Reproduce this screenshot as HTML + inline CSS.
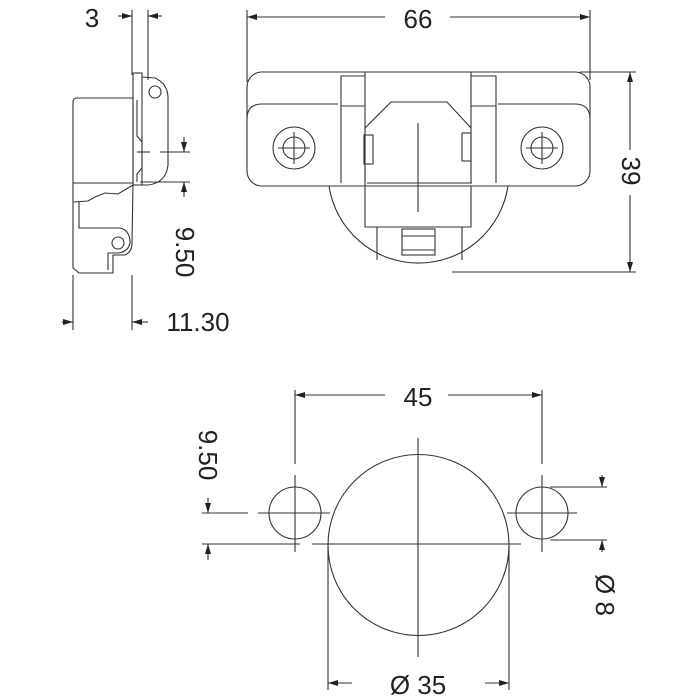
<!DOCTYPE html>
<html><head><style>
html,body{margin:0;padding:0;background:#fff;}
svg{display:block}
text{font-family:"Liberation Sans",sans-serif;fill:#222;}
</style></head><body>
<svg width="700" height="700" viewBox="0 0 700 700" xmlns="http://www.w3.org/2000/svg">
<defs>
<marker id="a" viewBox="0 0 10 6" refX="10" refY="3" markerWidth="10" markerHeight="6" orient="auto-start-reverse" markerUnits="userSpaceOnUse"><path d="M0,0 L10,3 L0,6 z" fill="#222"/></marker>
</defs>
<g fill="none" stroke="#333" stroke-width="1.1">
<!-- LEFT SIDE VIEW -->
<line x1="132" y1="10" x2="132" y2="75"/><line x1="148" y1="10" x2="148" y2="80"/>
<line x1="118" y1="16" x2="132" y2="16" marker-end="url(#a)"/>
<line x1="162" y1="16" x2="148" y2="16" marker-end="url(#a)"/>
<path d="M133,98 L77,98 Q73,98 73,102 L73,268 L79,273 L113,273 L113,255 L125,255 Q132,252 132,243 L133,183 Z"/>
<line x1="73" y1="183" x2="133" y2="183"/>
<path d="M73,202 L88,201 L95,197 L105,193 L118,194 L128,188 L133,185"/>
<path d="M79,202 L79,228 L120,228 Q130,230 130,243 Q128,252 118,253 L108,253 L108,270"/>
<circle cx="118" cy="243" r="6"/>
<rect x="133" y="73" width="9" height="112"/>
<path d="M142,77 L155,78 Q168,84 168,98 L168,165 Q166,183 148,185 L140,185"/>
<circle cx="155" cy="92" r="6"/>
<path d="M137,100 L137,136 L142,142 L142,168 L137,174 L137,182"/>
<line x1="137" y1="152" x2="150" y2="152"/>
<line x1="160" y1="152" x2="190" y2="152"/>
<line x1="140" y1="182" x2="190" y2="182"/>
<line x1="184" y1="137" x2="184" y2="152" marker-end="url(#a)"/>
<line x1="184" y1="197" x2="184" y2="182" marker-end="url(#a)"/>
<line x1="73" y1="275" x2="73" y2="330"/><line x1="132" y1="275" x2="132" y2="330"/>
<line x1="62" y1="322" x2="73" y2="322" marker-end="url(#a)"/>
<line x1="148" y1="322" x2="132" y2="322" marker-end="url(#a)"/>

<!-- TOP RIGHT VIEW -->
<line x1="247" y1="10" x2="247" y2="82"/><line x1="590" y1="10" x2="590" y2="80"/>
<line x1="247" y1="17" x2="385" y2="17" marker-start="url(#a)"/>
<line x1="450" y1="17" x2="590" y2="17" marker-end="url(#a)"/>
<path d="M329,186 A90.5,90.5 0 0 0 508,186"/>
<rect x="247" y="72" width="343" height="114" rx="15" fill="#fff"/>
<path d="M338,104 L262,104 Q247,104 247,119"/>
<path d="M498,104 L575,104 Q590,104 590,119"/>
<circle cx="294" cy="148" r="21"/><circle cx="294" cy="148" r="11"/>
<line x1="278" y1="148" x2="310" y2="148"/><line x1="294" y1="132" x2="294" y2="164"/>
<circle cx="542" cy="148" r="21"/><circle cx="542" cy="148" r="11"/>
<line x1="526" y1="148" x2="558" y2="148"/><line x1="542" y1="132" x2="542" y2="164"/>
<path d="M341,183 L341,76 L365,76 M365,72 L365,183 M471,72 L471,183 M471,76 L496,76 L496,183" />
<path d="M341,106 L365,106 M471,106 L496,106"/>
<path d="M365,186 L365,128 L391,102 L447,102 L471,128"/>
<line x1="367" y1="183" x2="472" y2="183"/>
<rect x="364" y="135" width="9" height="29"/><rect x="462" y="133" width="9" height="28"/>
<line x1="418" y1="123" x2="418" y2="212"/>
<path d="M365,186 L365,227 L377,227 L377,260 M471,186 L471,227 L462,227 L462,260"/>
<path d="M377,230 L377,227 L462,227"/>
<rect x="402" y="229" width="33" height="26"/>
<line x1="402" y1="236" x2="435" y2="236"/><line x1="402" y1="250" x2="435" y2="250"/>
<line x1="580" y1="72" x2="636" y2="72"/><line x1="452" y1="272" x2="636" y2="272"/>
<line x1="630" y1="150" x2="630" y2="72" marker-end="url(#a)"/>
<line x1="630" y1="195" x2="630" y2="272" marker-end="url(#a)"/>

<!-- BOTTOM VIEW -->
<circle cx="418.5" cy="545" r="90.5"/>
<circle cx="295" cy="513" r="26"/><circle cx="542" cy="513" r="26"/>
<line x1="295" y1="390" x2="295" y2="464"/><line x1="542" y1="390" x2="542" y2="464"/>
<line x1="295" y1="395" x2="385" y2="395" marker-start="url(#a)"/>
<line x1="448" y1="395" x2="542" y2="395" marker-end="url(#a)"/>
<line x1="295" y1="475" x2="295" y2="552"/><line x1="542" y1="475" x2="542" y2="552"/>
<line x1="202" y1="513" x2="248" y2="513"/><line x1="258" y1="513" x2="330" y2="513"/>
<line x1="507" y1="513" x2="577" y2="513"/>
<line x1="202" y1="544" x2="300" y2="544"/><line x1="312" y1="544" x2="521" y2="544"/>
<line x1="418" y1="438" x2="418" y2="657"/>
<line x1="208" y1="498" x2="208" y2="513" marker-end="url(#a)"/>
<line x1="208" y1="560" x2="208" y2="544" marker-end="url(#a)"/>
<line x1="550" y1="487" x2="607" y2="487"/><line x1="550" y1="540" x2="607" y2="540"/>
<line x1="602" y1="475" x2="602" y2="487" marker-end="url(#a)"/>
<line x1="602" y1="552" x2="602" y2="540" marker-end="url(#a)"/>
<line x1="328" y1="545" x2="328" y2="690"/><line x1="509" y1="545" x2="509" y2="690"/>
<line x1="352" y1="683" x2="328" y2="683" marker-end="url(#a)"/>
<line x1="485" y1="683" x2="509" y2="683" marker-end="url(#a)"/>
</g>
<g font-size="26">
<text x="92" y="27" text-anchor="middle">3</text>
<text x="418" y="28" text-anchor="middle">66</text>
<text x="622" y="171" text-anchor="middle" transform="rotate(90 622 171)">39</text>
<text x="176" y="252" text-anchor="middle" transform="rotate(90 176 252)">9.50</text>
<text x="198" y="331" text-anchor="middle">11.30</text>
<text x="418" y="406" text-anchor="middle">45</text>
<text x="199" y="455" text-anchor="middle" transform="rotate(90 199 455)">9.50</text>
<text x="596" y="595" text-anchor="middle" transform="rotate(90 596 595)">Ø 8</text>
<text x="418" y="694" text-anchor="middle">Ø 35</text>
</g>
</svg>
</body></html>
